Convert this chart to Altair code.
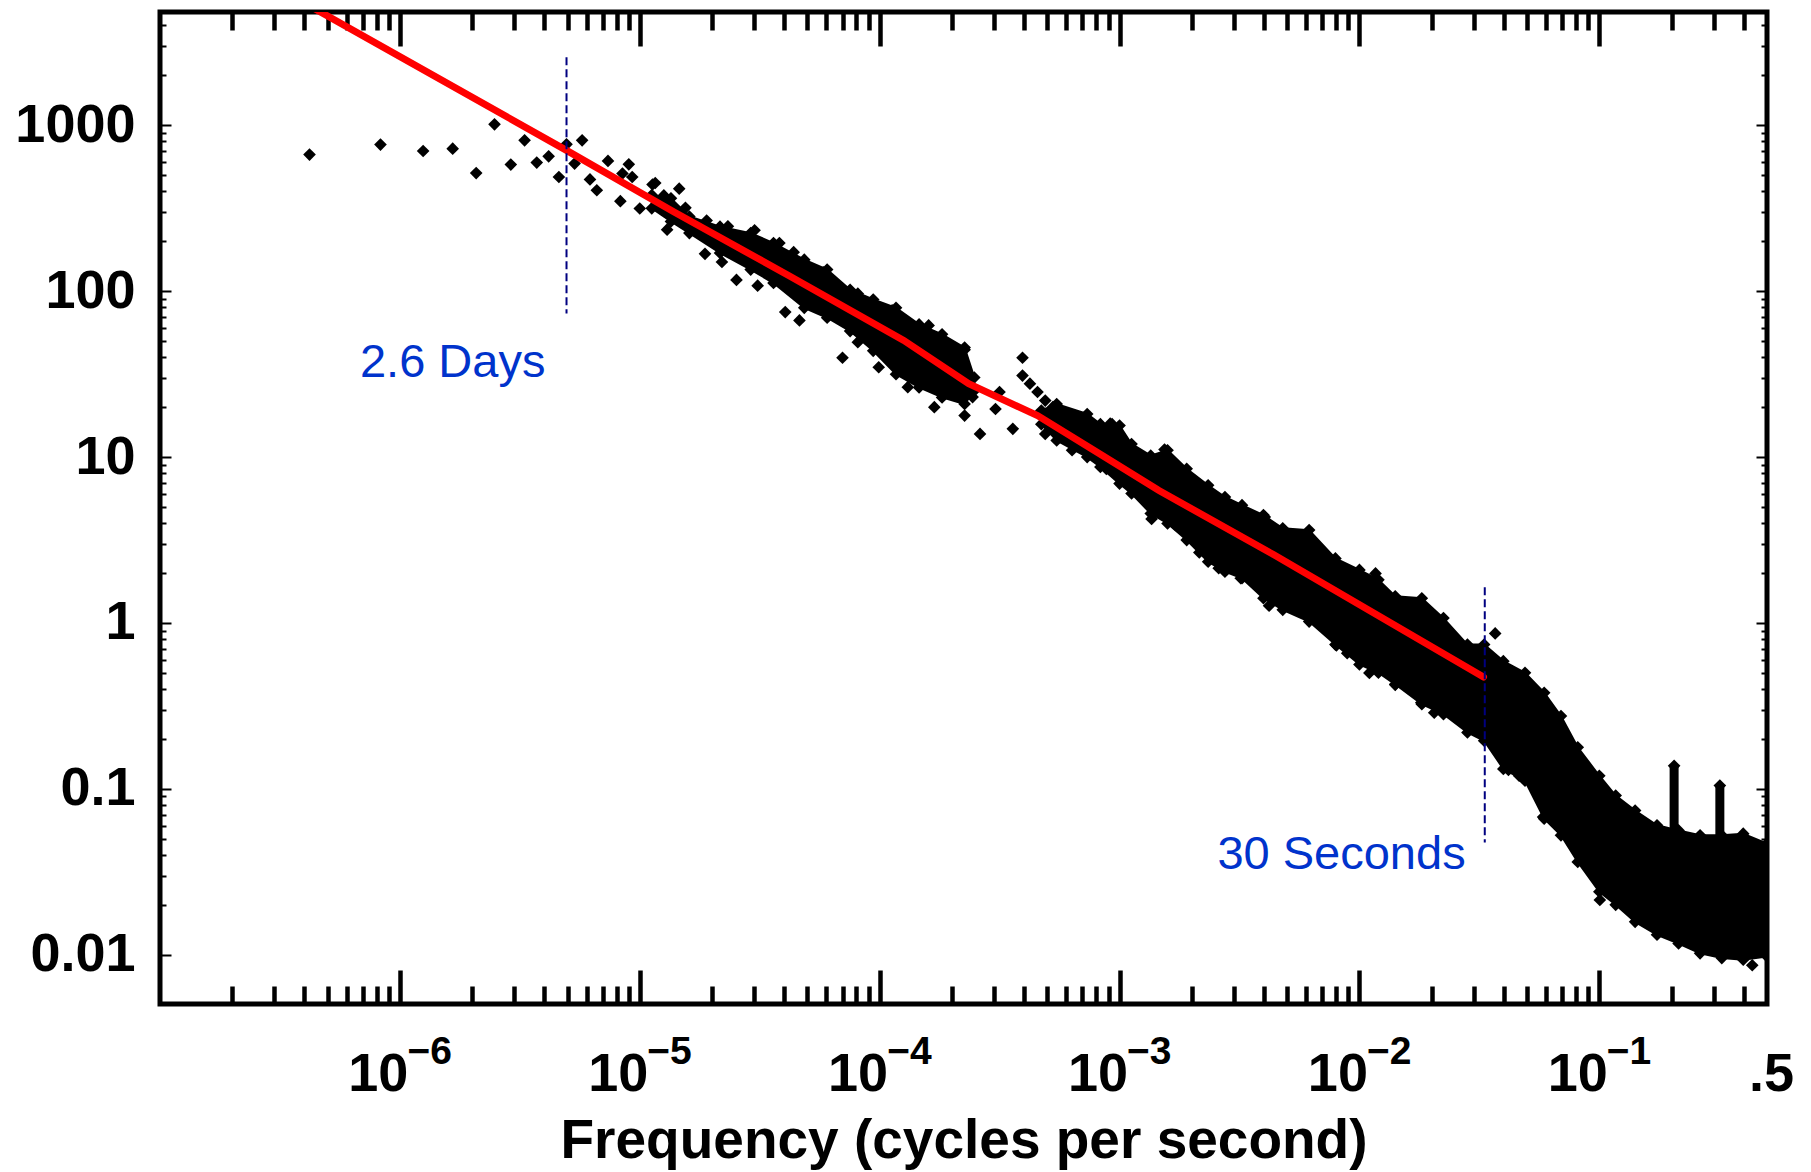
import altair as alt
import pandas as pd

# ---------------- values ----------------
# sparse low-frequency periodogram points (frequency in Hz, power)
sparse_freq = [4.2e-7, 8.3e-7, 1.25e-6, 1.66e-6, 2.08e-6, 2.48e-6, 2.9e-6, 3.31e-6, 3.72e-6,
               4.17e-6, 4.6e-6, 4.95e-6, 5.75e-6, 5.35e-6, 6.2e-6, 6.62e-6, 7.37e-6, 8.3e-6,
               9.0e-6, 9.3e-6, 1.0e-5, 1.13e-5, 1.26e-5, 1.30e-5, 1.46e-5, 8.47e-6, 1.16e-5, 1.34e-5]
sparse_power = [666, 765, 700, 723, 515, 1014, 580, 812, 596,
                650, 488, 768, 812, 588, 472, 406, 610, 349,
                582, 488, 315, 440, 378, 235, 415, 512, 449, 300]

# points along the edges of the 1e-5 .. 1e-3 Hz cloud and in the gap near 3e-4 Hz
mid_freq = [1.90e-5, 2.33e-5, 3.01e-5, 3.82e-5, 4.38e-5, 5.82e-5, 8.11e-5, 1.127e-4, 1.60e-4, 2.26e-4,
            1.55e-5, 1.87e-5, 2.20e-5, 2.53e-5, 3.10e-5, 4.04e-5, 4.63e-5, 7.00e-5, 8.11e-5, 9.91e-5,
            1.31e-4, 1.69e-4, 2.26e-4, 2.62e-4,
            2.44e-4, 3.04e-4, 3.16e-4, 3.59e-4, 3.94e-4, 3.94e-4, 4.23e-4, 4.55e-4, 4.90e-4, 5.27e-4,
            5.68e-4, 4.90e-4, 6.34e-4, 6.95e-4, 9.14e-4, 8.81e-4, 1.23e-3]
mid_power = [267, 246, 233, 195, 172, 130, 96.6, 76.6, 62.2, 44.4,
             318, 168, 150, 117, 108, 74.8, 66.7, 39.7, 49.3, 34.8,
             26.4, 20.0, 17.8, 13.8,
             23.0, 19.5, 24.7, 14.8, 39.7, 31.0, 27.7, 24.7, 21.9, 20.0,
             18.2, 13.8, 11.0, 17.0, 15.9, 8.49, 6.59]

# isolated points around the dense cloud above 1e-3 Hz
high_freq = [1.36e-3, 1.71e-3, 2.15e-3, 2.59e-3, 3.20e-3, 4.20e-3, 5.16e-3, 8.02e-3, 8.89e-3, 1.10e-2,
             1.41e-2, 1.81e-2, 2.05e-2, 4.18e-2, 4.63e-2, 5.83e-2, 0.1005, 0.140, 0.252, 0.434,
             3.68e-2, 1.167e-2, 1.54e-3, 9.31e-4, 4.03e-3]
high_power = [4.24, 3.90, 2.66, 2.14, 1.86, 1.27, 1.30, 0.733, 0.658, 0.500,
              0.424, 0.331, 0.288, 0.130, 0.120, 0.0676, 0.0214, 0.0171, 0.0114, 0.00865,
              0.865, 1.99, 11.1, 15.8, 4.36]

# the two narrow spectral lines near 0.2 and 0.3 Hz (column top and bottom)
spike_freq = [0.205, 0.318]
spike_top = [0.1377, 0.1047]
spike_bottom = [0.0520, 0.0500]

# dense part of the cloud, 1e-5 .. 2.5e-4 Hz (upper / lower edge)
band1_freq = [1.122e-5, 1.349e-5, 1.61e-5, 2.16e-5, 2.90e-5, 3.61e-5, 4.85e-5, 6.04e-5,
              7.53e-5, 9.40e-5, 1.17e-4, 1.46e-4, 1.82e-4, 2.26e-4, 2.48e-4]
band1_upper = [380, 363, 282, 245, 224, 195, 155, 135, 102, 89.1, 79.4, 63.1, 55.0, 45.7, 30.2]
band1_lower = [316, 263, 224, 170, 135, 112, 79.4, 69.2, 57.5, 43.7, 31.6, 26.3, 22.9, 20.9, 25.1]

# dense part of the cloud, 4.7e-4 .. 0.5 Hz (upper / lower edge)
band2_freq = [4.72e-4, 5.47e-4, 7.33e-4, 8.32e-4, 1.0e-3, 1.122e-3, 1.349e-3, 1.585e-3, 1.905e-3,
              2.34e-3, 2.75e-3, 3.24e-3, 3.98e-3, 4.79e-3, 6.17e-3, 7.94e-3, 1.0e-2, 1.20e-2,
              1.41e-2, 1.82e-2, 2.24e-2, 2.82e-2, 3.31e-2, 3.98e-2, 4.90e-2, 5.89e-2, 6.92e-2,
              8.13e-2, 0.1, 0.117, 0.141, 0.174, 0.214, 0.263, 0.324, 0.398, 0.5]
band2_upper = [19.1, 20.9, 18.2, 15.8, 15.5, 12.0, 10.2, 11.0, 8.51,
               6.76, 5.75, 5.13, 4.47, 3.72, 3.63, 2.45, 2.09, 1.82,
               1.45, 1.41, 1.07, 0.741, 0.741, 0.589, 0.501, 0.380, 0.275,
               0.178, 0.120, 0.0912, 0.0741, 0.0603, 0.0562, 0.0525, 0.0525, 0.0537, 0.0468]
band2_lower = [15.8, 12.6, 10.0, 8.71, 6.92, 6.03, 4.57, 3.98, 3.16,
               2.34, 2.04, 1.86, 1.41, 1.20, 1.02, 0.741, 0.562, 0.501,
               0.427, 0.324, 0.282, 0.219, 0.195, 0.132, 0.112, 0.0661, 0.0525,
               0.0363, 0.0240, 0.0200, 0.0158, 0.0132, 0.0117, 0.0102, 0.00955, 0.00933, 0.00977]

# red fitted line
red_freq = [3.16e-7, 4.95e-6, 1.39e-5, 4.19e-5, 1.26e-4, 2.35e-4, 4.55e-4, 8.22e-4, 1.46e-3,
            4.38e-3, 3.29e-2]
red_power = [6620, 706, 300, 124, 50.5, 27.7, 17.8, 10.5, 6.29, 2.585, 0.472]

# dashed markers and their labels
marker_freq = [4.95e-6, 0.0333]
marker_top = [2570, 1.64]
marker_bottom = [73.5, 0.0475]
note_text = ["2.6 Days", "30 Seconds"]
note_freq = [1.66e-6, 8.42e-3]
note_power = [30.2, 0.0330]

# axis ticks
x_major = [1e-6, 1e-5, 1e-4, 1e-3, 1e-2, 1e-1]
x_label_values = [1e-6, 1e-5, 1e-4, 1e-3, 1e-2, 1e-1, 0.5]
x_minor = [2e-7, 3e-7, 4e-7, 5e-7, 6e-7, 7e-7, 8e-7, 9e-7,
           2e-6, 3e-6, 4e-6, 5e-6, 6e-6, 7e-6, 8e-6, 9e-6,
           2e-5, 3e-5, 4e-5, 5e-5, 6e-5, 7e-5, 8e-5, 9e-5,
           2e-4, 3e-4, 4e-4, 5e-4, 6e-4, 7e-4, 8e-4, 9e-4,
           2e-3, 3e-3, 4e-3, 5e-3, 6e-3, 7e-3, 8e-3, 9e-3,
           2e-2, 3e-2, 4e-2, 5e-2, 6e-2, 7e-2, 8e-2, 9e-2,
           0.2, 0.3, 0.4]
y_major = [0.01, 0.1, 1, 10, 100, 1000]
y_minor = [0.02, 0.03, 0.04, 0.05, 0.06, 0.07, 0.08, 0.09,
           0.2, 0.3, 0.4, 0.5, 0.6, 0.7, 0.8, 0.9,
           2, 3, 4, 5, 6, 7, 8, 9,
           20, 30, 40, 50, 60, 70, 80, 90,
           200, 300, 400, 500, 600, 700, 800, 900,
           2000, 3000, 4000]

# ---------------- chart ----------------
W, H = 1607, 992
FONT = "Liberation Sans"
xs = alt.Scale(type="log", domain=[1e-7, 0.5], nice=False)
ys = alt.Scale(type="log", domain=[0.00505, 4820], nice=False)


def tick_axis(orient, offset, values, size, width):
    return alt.Axis(orient=orient, offset=offset, values=values, ticks=True, tickSize=size,
                    tickWidth=width, tickColor="black", labels=False, domain=False,
                    grid=False, title=None)


x_lab_axis = alt.Axis(
    orient="bottom", values=x_label_values,
    labelExpr="datum.value > 0.3 ? '.5' : '10'",
    ticks=False, tickSize=0, domain=False, grid=False,
    labelFont=FONT, labelFontWeight="bold", labelFontSize=54, labelColor="black",
    labelBaseline="alphabetic", labelPadding=86,
    labelAlign={"condition": {"test": "datum.value > 0.3", "value": "center"}, "value": "right"},
    labelOffset={"condition": {"test": "datum.value > 0.3", "value": 4}, "value": 8},
    labelFlush=False, labelOverlap=False, labelBound=False,
    title="Frequency (cycles per second)", titleFont=FONT, titleFontWeight="bold",
    titleFontSize=55, titleColor="black", titleBaseline="alphabetic", titleY=153)

x_exp_axis = alt.Axis(
    orient="bottom", values=x_major,
    labelExpr="'\u2212' + round(-log(datum.value) / LN10)",
    ticks=False, tickSize=0, domain=False, grid=False,
    labelFont=FONT, labelFontWeight="bold", labelFontSize=39, labelColor="black",
    labelBaseline="alphabetic", labelPadding=59, labelAlign="left", labelOffset=7,
    labelFlush=False, labelOverlap=False, labelBound=False, title=None)

y_lab_axis = alt.Axis(
    orient="left", values=y_major, labelExpr="'' + datum.value",
    ticks=False, tickSize=0, domain=False, grid=False,
    labelFont=FONT, labelFontWeight="bold", labelFontSize=54, labelColor="black",
    labelPadding=25, labelAlign="right", labelBaseline="middle",
    labelFlush=False, labelOverlap=False, labelBound=False, title=None)

band1 = pd.DataFrame({"f": band1_freq, "hi": band1_upper, "lo": band1_lower})
band2 = pd.DataFrame({"f": band2_freq, "hi": band2_upper, "lo": band2_lower})
edge = pd.DataFrame({"f": band1_freq + band1_freq + band2_freq + band2_freq,
                     "p": band1_upper + band1_lower + band2_upper + band2_lower})
pts = pd.DataFrame({"f": sparse_freq + mid_freq + high_freq + spike_freq,
                    "p": sparse_power + mid_power + high_power + spike_top})
spikes = pd.DataFrame({"f": spike_freq, "top": spike_top, "bot": spike_bottom})
red = pd.DataFrame({"f": red_freq, "p": red_power})
markers = pd.DataFrame({"f": marker_freq, "top": marker_top, "bot": marker_bottom})
notes = pd.DataFrame({"f": note_freq, "p": note_power, "t": note_text})

DIAMOND = dict(shape="diamond", filled=True, size=160, color="black", opacity=1, clip=True)

l1 = alt.Chart(band1).mark_area(color="black", stroke="black", strokeWidth=2, clip=True).encode(
    x=alt.X("f:Q", scale=xs, axis=tick_axis("top", -H, x_major, 34, 4.5)),
    y=alt.Y("hi:Q", scale=ys, axis=tick_axis("right", -W, y_major, 11, 2)),
    y2="lo:Q")

l2 = alt.Chart(band2).mark_area(color="black", stroke="black", strokeWidth=2, clip=True).encode(
    x=alt.X("f:Q", scale=xs, axis=tick_axis("top", -H, x_minor, 18, 4.5)),
    y=alt.Y("hi:Q", scale=ys, axis=tick_axis("right", -W, y_minor, 6, 2)),
    y2="lo:Q")

l3 = alt.Chart(edge).mark_point(**DIAMOND).encode(
    x=alt.X("f:Q", scale=xs, axis=tick_axis("bottom", -H, x_major, 34, 4.5)),
    y=alt.Y("p:Q", scale=ys, axis=tick_axis("left", -W, y_major, 11, 2)))

l4 = alt.Chart(pts).mark_point(**DIAMOND).encode(
    x=alt.X("f:Q", scale=xs, axis=tick_axis("bottom", -H, x_minor, 18, 4.5)),
    y=alt.Y("p:Q", scale=ys, axis=tick_axis("left", -W, y_minor, 6, 2)))

l4b = alt.Chart(spikes).mark_rule(color="black", strokeWidth=9, clip=True).encode(
    x=alt.X("f:Q", scale=xs, axis=None),
    y=alt.Y("top:Q", scale=ys, axis=None),
    y2="bot:Q")

l5 = alt.Chart(red).mark_line(color="#ff0000", strokeWidth=7, strokeCap="round", clip=True).encode(
    x=alt.X("f:Q", scale=xs, axis=x_lab_axis),
    y=alt.Y("p:Q", scale=ys, axis=y_lab_axis))

l6 = alt.Chart(markers).mark_rule(color="#000080", strokeWidth=2, strokeDash=[8, 4]).encode(
    x=alt.X("f:Q", scale=xs, axis=x_exp_axis),
    y=alt.Y("top:Q", scale=ys, axis=None),
    y2="bot:Q")

l7 = alt.Chart(notes).mark_text(font=FONT, fontSize=47, color="#0033cc", align="center",
                                baseline="alphabetic").encode(
    x=alt.X("f:Q", scale=xs, axis=None),
    y=alt.Y("p:Q", scale=ys, axis=None),
    text="t:N")

chart = alt.layer(l1, l2, l3, l4, l4b, l5, l6, l7).resolve_axis(
    x="independent", y="independent"
).properties(
    width=W, height=H,
    autosize=alt.AutoSizeParams(type="none"),
    padding={"left": 152, "top": 4, "right": 36, "bottom": 166},
    background="white",
).configure_view(stroke="black", strokeWidth=5)

chart.save("out.html", embed_options={"renderer": "svg", "actions": False})
